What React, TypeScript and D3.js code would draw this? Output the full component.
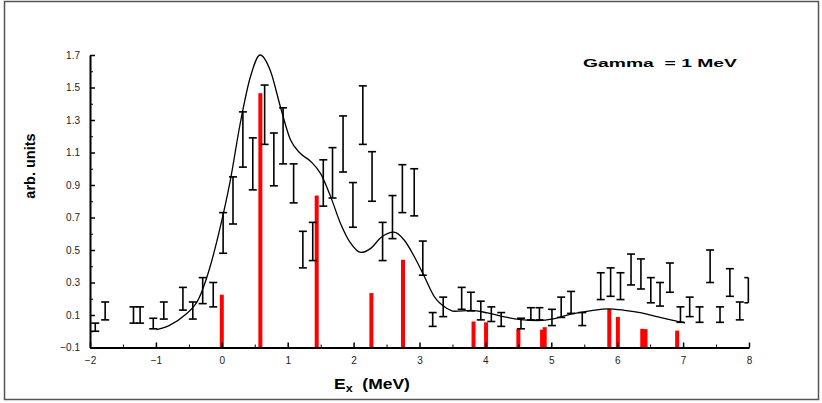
import { useEffect, useRef } from "react"
import * as d3 from "d3"

// error bars: energy, lower edge, upper edge
const barX = [-1.92, -1.77, -1.34, -1.24, -1.04, -0.88, -0.59, -0.44, -0.29, -0.13, 0.02, 0.17, 0.32, 0.47, 0.65, 0.79, 0.93, 1.09, 1.23, 1.38, 1.54, 1.68, 1.84, 1.99, 2.14, 2.28, 2.44, 2.59, 2.74, 2.92, 3.05, 3.2, 3.36, 3.64, 3.78, 3.93, 4.09, 4.24, 4.54, 4.69, 4.82, 5.01, 5.15, 5.3, 5.47, 5.75, 5.9, 6.05, 6.21, 6.36, 6.51, 6.65, 6.8, 6.96, 7.1, 7.25, 7.41, 7.56, 7.71, 7.86, 7.99]
const barLow = [0.0, 0.07, 0.05, 0.05, 0.015, 0.075, 0.13, 0.075, 0.17, 0.15, 0.48, 0.66, 1.01, 0.87, 1.15, 0.895, 1.03, 0.79, 0.39, 0.435, 0.77, 0.82, 0.98, 0.64, 1.15, 0.8, 0.435, 0.57, 0.73, 0.71, 0.345, 0.03, 0.09, 0.135, 0.125, 0.07, 0.06, 0.03, 0.015, 0.07, 0.07, 0.035, 0.085, 0.11, 0.035, 0.195, 0.215, 0.195, 0.285, 0.26, 0.175, 0.155, 0.24, 0.055, 0.09, 0.055, 0.3, 0.055, 0.215, 0.07, 0.175]
const barHigh = [0.05, 0.18, 0.15, 0.15, 0.08, 0.18, 0.27, 0.18, 0.33, 0.3, 0.73, 0.95, 1.35, 1.19, 1.515, 1.22, 1.375, 1.03, 0.615, 0.67, 1.055, 1.13, 1.325, 0.915, 1.51, 1.105, 0.67, 0.835, 1.025, 1.0, 0.555, 0.115, 0.21, 0.27, 0.24, 0.185, 0.15, 0.115, 0.08, 0.145, 0.145, 0.135, 0.21, 0.245, 0.115, 0.36, 0.39, 0.36, 0.475, 0.445, 0.33, 0.3, 0.42, 0.15, 0.21, 0.15, 0.5, 0.15, 0.385, 0.18, 0.33]

// fitted curve
const curveX = [-0.99, -0.8, -0.56, -0.35, -0.19, -0.03, 0.13, 0.28, 0.43, 0.58, 0.74, 0.89, 1.04, 1.19, 1.35, 1.5, 1.65, 1.8, 1.95, 2.11, 2.26, 2.41, 2.61, 2.77, 2.92, 3.07, 3.23, 3.4, 3.53, 3.78, 4.03, 4.29, 4.54, 4.8, 5.05, 5.3, 5.61, 5.86, 6.11, 6.37, 6.62, 6.83, 7.03]
const curveY = [0.01, 0.035, 0.1, 0.2, 0.38, 0.63, 0.93, 1.28, 1.56, 1.7, 1.6, 1.38, 1.18, 1.095, 1.045, 0.97, 0.83, 0.665, 0.545, 0.485, 0.51, 0.575, 0.61, 0.56, 0.46, 0.34, 0.21, 0.145, 0.123, 0.128, 0.113, 0.088, 0.072, 0.066, 0.078, 0.105, 0.127, 0.138, 0.129, 0.113, 0.088, 0.068, 0.052]

// red strength sticks
const stickX = [0.0, 0.585, 1.44, 2.27, 2.75, 3.82, 4.01, 4.5, 4.86, 4.9, 5.88, 6.01, 6.38, 6.43, 6.91]
const stickY = [0.225, 1.465, 0.835, 0.235, 0.44, 0.06, 0.055, 0.015, 0.01, 0.025, 0.137, 0.088, 0.015, 0.013, 0.004]

const yMajor = [-0.1, 0.1, 0.3, 0.5, 0.7, 0.9, 1.1, 1.3, 1.5, 1.7]
const yMinor = [0, 0.2, 0.4, 0.6, 0.8, 1.0, 1.2, 1.4, 1.6]
const xMajor = [-2, -1, 0, 1, 2, 3, 4, 5, 6, 7, 8]
const xMinor = [-1.5, -0.5, 0.5, 1.5, 2.5, 3.5, 4.5, 5.5, 6.5, 7.5]

export default function App() {
  const svgRef = useRef<SVGSVGElement>(null)

  useEffect(() => {
    if (!svgRef.current) return
    d3.select(svgRef.current).selectAll("*").remove()

    const width = 822
    const height = 403
    const svg = d3.select(svgRef.current).attr("width", width).attr("height", height)
    const font = "Liberation Sans, Arial, sans-serif"

    const x = d3.scaleLinear().domain([-2, 8]).range([90, 749])
    const y = d3.scaleLinear().domain([-0.1, 1.7]).range([347.5, 55])

    // outer frame
    svg
      .append("rect")
      .attr("x", 4.5)
      .attr("y", 1.5)
      .attr("width", 814)
      .attr("height", 398)
      .attr("fill", "white")
      .attr("stroke", "#555")
      .attr("stroke-width", 1.5)

    // red sticks
    svg
      .selectAll(".stick")
      .data(stickX)
      .enter()
      .append("rect")
      .attr("x", (d) => x(d) - 2)
      .attr("width", 4)
      .attr("y", (d, i) => y(stickY[i]))
      .attr("height", (d, i) => y(-0.1) - y(stickY[i]))
      .attr("fill", "#ff0000")

    // error bars
    const eb = svg.append("g").attr("stroke", "black").attr("stroke-width", 1.6).attr("fill", "none")
    barX.forEach((d, i) => {
      const cx = x(d)
      const last = i === barX.length - 1
      eb.append("line").attr("x1", cx).attr("x2", cx).attr("y1", y(barLow[i])).attr("y2", y(barHigh[i]))
      eb.append("line").attr("x1", cx - 4).attr("x2", last ? cx : cx + 4).attr("y1", y(barLow[i])).attr("y2", y(barLow[i]))
      eb.append("line").attr("x1", cx - 4).attr("x2", last ? cx : cx + 4).attr("y1", y(barHigh[i])).attr("y2", y(barHigh[i]))
    })

    // fitted curve
    const line = d3
      .line<number>()
      .x((d) => x(d))
      .y((d, i) => y(curveY[i]))
      .curve(d3.curveMonotoneX)
    svg
      .append("path")
      .datum(curveX)
      .attr("fill", "none")
      .attr("stroke", "black")
      .attr("stroke-width", 1.3)
      .attr("d", line)

    // y axis, ticks pointing inward
    const yAxis = svg
      .append("g")
      .attr("transform", `translate(${x(-2)},0)`)
      .call(d3.axisLeft(y).tickValues(yMajor).tickSize(-5).tickSizeOuter(0).tickPadding(10).tickFormat(d3.format(".1f")))
    yAxis.select(".domain").attr("stroke-width", 2)
    yAxis.selectAll("line").attr("stroke-width", 1.5)
    yAxis.selectAll("text").attr("font-family", font).attr("font-size", 10).attr("fill", "#222")
    svg
      .append("g")
      .attr("transform", `translate(${x(-2)},0)`)
      .call(d3.axisLeft(y).tickValues(yMinor).tickSize(-3).tickFormat(() => ""))
      .call((g) => g.select(".domain").remove())

    // x axis, ticks pointing up
    const xAxis = svg
      .append("g")
      .attr("transform", `translate(0,${y(-0.1)})`)
      .call(d3.axisBottom(x).tickValues(xMajor).tickSize(-5).tickSizeOuter(0).tickPadding(9).tickFormat(d3.format("d")))
    xAxis.select(".domain").attr("stroke-width", 2)
    xAxis.selectAll("line").attr("stroke-width", 1.5)
    xAxis.selectAll("text").attr("font-family", font).attr("font-size", 10).attr("fill", "#222")
    svg
      .append("g")
      .attr("transform", `translate(0,${y(-0.1)})`)
      .call(d3.axisBottom(x).tickValues(xMinor).tickSize(-3).tickFormat(() => ""))
      .call((g) => g.select(".domain").remove())

    // axis titles
    const xt = svg
      .append("text")
      .attr("transform", "translate(334,389) scale(1.25,1)")
      .attr("font-family", font)
      .attr("font-weight", "bold")
      .attr("font-size", 14)
      .style("white-space", "pre")
    xt.append("tspan").text("E")
    xt.append("tspan").attr("font-size", 10).attr("dy", 3).text("x")
    xt.append("tspan").attr("dy", -3).text("  (MeV)")

    svg
      .append("text")
      .attr("transform", "translate(35,166) rotate(-90)")
      .attr("text-anchor", "middle")
      .attr("font-family", font)
      .attr("font-weight", "bold")
      .attr("font-size", 14.5)
      .text("arb. units")

    svg
      .append("text")
      .attr("x", 583)
      .attr("y", 67)
      .attr("font-family", font)
      .attr("font-weight", "bold")
      .attr("font-size", 11)
      .attr("textLength", 154)
      .attr("lengthAdjust", "spacingAndGlyphs")
      .style("white-space", "pre")
      .text("Gamma  = 1 MeV")
  }, [])

  return <svg ref={svgRef} style={{ position: "absolute", left: 0, top: 0 }}></svg>
}
